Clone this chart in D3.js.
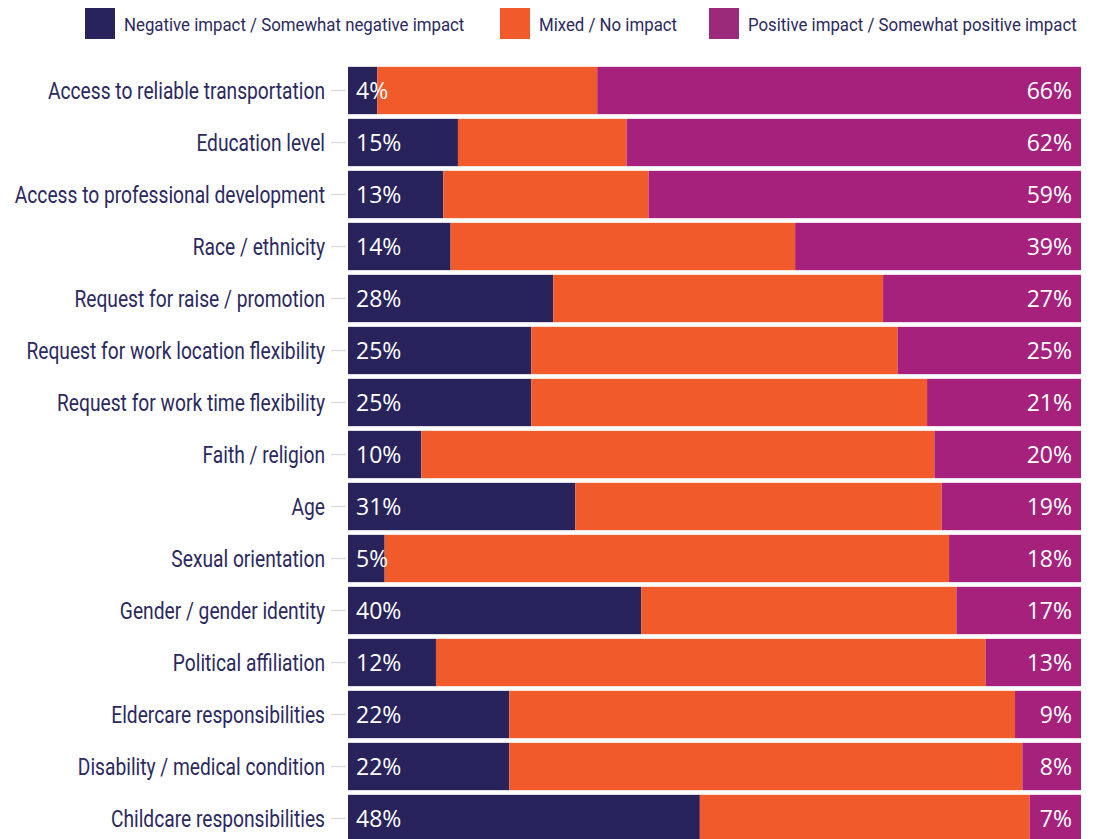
<!DOCTYPE html>
<html>
<head>
<meta charset="utf-8">
<script src="https://cdn.jsdelivr.net/npm/d3@7"></script>
<style>
  body { margin: 0; background: #fff; }
  .cat { font-family: "Roboto", sans-serif; font-size: 23px; fill: #2b2960; }
  .val { font-family: "Open Sans", sans-serif; font-size: 23px; fill: #fff; }
  .leg { font-family: "Roboto", sans-serif; font-size: 19px; fill: #2b2960; }
</style>
</head>
<body>
<div id="chart"></div>
<script>
var svgWidth = 1095;
var svgHeight = 839;

// categories, top to bottom
var categories = [
  "Access to reliable transportation",
  "Education level",
  "Access to professional development",
  "Race / ethnicity",
  "Request for raise / promotion",
  "Request for work location flexibility",
  "Request for work time flexibility",
  "Faith / religion",
  "Age",
  "Sexual orientation",
  "Gender / gender identity",
  "Political affiliation",
  "Eldercare responsibilities",
  "Disability / medical condition",
  "Childcare responsibilities"
];
var negative = [4, 15, 13, 14, 28, 25, 25, 10, 31, 5, 40, 12, 22, 22, 48];
var positive = [66, 62, 59, 39, 27, 25, 21, 20, 19, 18, 17, 13, 9, 8, 7];
var mixed = negative.map((n, i) => 100 - n - positive[i]);

var seriesKeys = ["neg", "mix", "pos"];
var seriesNames = ["Negative impact / Somewhat negative impact", "Mixed / No impact", "Positive impact / Somewhat positive impact"];
var colors = ["#29235c", "#f15a2b", "#a6217b"];
var legendColors = ["#29235c", "#f15a2b", "#9b2a7a"];

var data = categories.map((c, i) => ({ cat: c, neg: negative[i], mix: mixed[i], pos: positive[i] }));

var margin = { top: 64.5, left: 348, right: 14 };

var svg = d3.select("#chart")
  .append("svg")
  .attr("width", svgWidth)
  .attr("height", svgHeight);

var x = d3.scaleLinear()
  .domain([0, 100])
  .range([margin.left, svgWidth - margin.right]);

var y = d3.scaleBand()
  .domain(categories)
  .range([margin.top, margin.top + 52 * categories.length])
  .paddingInner(0.09)
  .paddingOuter(0.045);

var stack = d3.stack().keys(seriesKeys)(data);

// little connector ticks between label and bar
svg.append("g").selectAll("line")
  .data(data)
  .enter()
  .append("line")
  .attr("x1", 331)
  .attr("x2", 346)
  .attr("y1", d => y(d.cat) + y.bandwidth() / 2)
  .attr("y2", d => y(d.cat) + y.bandwidth() / 2)
  .attr("stroke", "#dddddd")
  .attr("stroke-width", 1.5);

svg.append("g").selectAll("g")
  .data(stack)
  .enter()
  .append("g")
  .attr("fill", (d, i) => colors[i])
  .selectAll("rect")
  .data(d => d)
  .enter()
  .append("rect")
  .attr("x", d => x(d[0]))
  .attr("width", d => x(d[1]) - x(d[0]))
  .attr("y", d => y(d.data.cat))
  .attr("height", y.bandwidth());

// category labels, squeezed horizontally to look like the condensed face
svg.append("g").selectAll("text")
  .data(data)
  .enter()
  .append("text")
  .attr("class", "cat")
  .attr("transform", d => `translate(325, ${y(d.cat) + y.bandwidth() / 2}) scale(0.835, 1)`)
  .attr("dy", "0.35em")
  .attr("text-anchor", "end")
  .text(d => d.cat);

// negative values
svg.append("g").selectAll("text")
  .data(data)
  .enter()
  .append("text")
  .attr("class", "val")
  .attr("x", x(0) + 8)
  .attr("y", d => y(d.cat) + y.bandwidth() / 2)
  .attr("dy", "0.36em")
  .text(d => d.neg + "%");

// positive values
svg.append("g").selectAll("text")
  .data(data)
  .enter()
  .append("text")
  .attr("class", "val")
  .attr("x", x(100) - 9)
  .attr("y", d => y(d.cat) + y.bandwidth() / 2)
  .attr("dy", "0.36em")
  .attr("text-anchor", "end")
  .text(d => d.pos + "%");

// legend
var legendX = [85, 500, 709];
var legend = svg.append("g").selectAll("g")
  .data(seriesNames)
  .enter()
  .append("g")
  .attr("transform", (d, i) => `translate(${legendX[i]}, 8)`);

legend.append("rect")
  .attr("width", 30)
  .attr("height", 31)
  .attr("fill", (d, i) => legendColors[i]);

legend.append("text")
  .attr("class", "leg")
  .attr("transform", "translate(39, 16) scale(0.885, 1)")
  .attr("dy", "0.35em")
  .text(d => d);
</script>
</body>
</html>
